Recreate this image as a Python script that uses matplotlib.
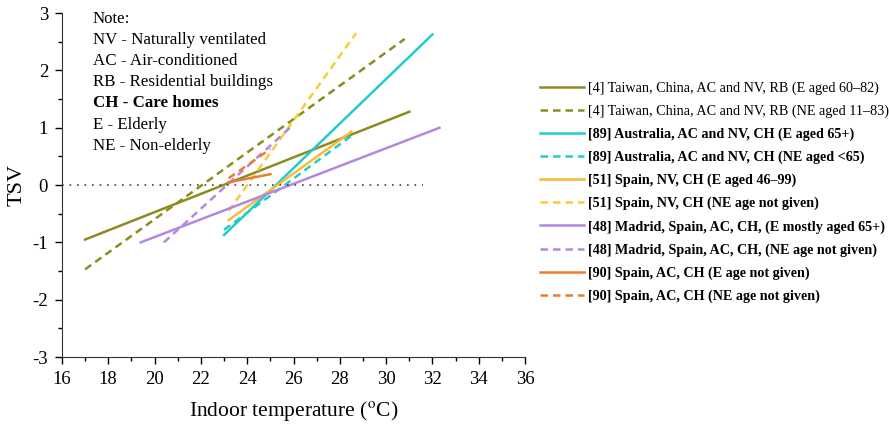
import numpy as np
import matplotlib.pyplot as plt

plt.rcParams['font.family'] = ['Liberation Serif', 'DejaVu Serif']
plt.rcParams['mathtext.fontset'] = 'stix'
plt.rcParams['axes.unicode_minus'] = False

# line endpoints: (x0, x1), (y0, y1)
labels = [
    "[4] Taiwan, China, AC and NV, RB (E aged 60\u201382)",
    "[4] Taiwan, China, AC and NV, RB (NE aged 11\u201383)",
    "[89] Australia, AC and NV, CH (E aged 65+)",
    "[89] Australia, AC and NV, CH (NE aged <65)",
    "[51] Spain, NV, CH (E aged 46\u201399)",
    "[51] Spain, NV, CH (NE age not given)",
    "[48] Madrid, Spain, AC, CH, (E mostly aged 65+)",
    "[48] Madrid, Spain, AC, CH, (NE age not given)",
    "[90] Spain, AC, CH (E age not given)",
    "[90] Spain, AC, CH (NE age not given)",
]
x_start = [17.0, 17.0, 23.0, 23.0, 23.2, 23.2, 19.4, 20.4, 23.2, 23.2]
x_end = [31.0, 30.8, 32.0, 28.6, 28.5, 28.7, 32.3, 25.9, 25.0, 25.0]
y_start = [-0.95, -1.47, -0.87, -0.78, -0.61, -0.45, -1.0, -1.0, 0.05, 0.12]
y_end = [1.28, 2.55, 2.63, 0.89, 0.93, 2.65, 1.0, 1.02, 0.19, 0.63]

colors = ['#8c8c1e', '#8c8c1e', '#22cccc', '#22cccc', '#f7bb35', '#f5cc3a',
          '#b488e0', '#b488e0', '#f07a30', '#f07a30']
bold = [False, False, True, True, True, True, True, True, True, True]

note_lines = ["Note:", "NV - Naturally ventilated", "AC - Air-conditioned",
              "RB - Residential buildings", "CH - Care homes", "E - Elderly",
              "NE - Non-elderly"]
note_y = [2.90, 2.53, 2.16, 1.80, 1.43, 1.05, 0.68]

fig = plt.figure(figsize=(8.89, 4.25), dpi=100)
ax = fig.add_axes([0.0697, 0.16, 0.521, 0.809])

for i in range(len(labels)):
    ls = '-' if i % 2 == 0 else (0, (3, 2))
    ax.plot([x_start[i], x_end[i]], [y_start[i], y_end[i]], color=colors[i],
            linestyle=ls, linewidth=1.8, label=labels[i])

ax.plot([16, 31.6], [0, 0], color='#444444', linestyle=(0, (1, 3.5)), linewidth=1.2)

for t, yy in zip(note_lines, note_y):
    ax.text(17.34, yy, t, fontsize=12.2, va='center', ha='left',
            fontweight='bold' if t.startswith("CH") else 'normal')

ax.set_xlim(16, 36)
ax.set_ylim(-3, 3)
ax.set_xticks(np.arange(16, 37, 2))
ax.set_yticks(np.arange(-3, 4, 1))
ax.set_xticks(np.arange(17, 36, 2), minor=True)
ax.set_yticks(np.arange(-2.5, 3, 1), minor=True)
ax.tick_params(which='major', direction='out', length=5, width=1, labelsize=13.5, pad=5)
ax.tick_params(which='minor', direction='out', length=3, width=1)
ax.spines['top'].set_visible(False)
ax.spines['right'].set_visible(False)
ax.spines['left'].set_color('#333333')
ax.spines['bottom'].set_color('#333333')
ax.set_xlabel("Indoor temperature ($^{\\mathrm{o}}$C)", fontsize=15.5, labelpad=8)
ax.set_ylabel("TSV", fontsize=16, labelpad=4)

leg = ax.legend(loc='center left', bbox_to_anchor=(0.607, 0.548),
                bbox_transform=fig.transFigure, frameon=False, fontsize=10.2,
                handlelength=3.15, handletextpad=0.25, labelspacing=0.68,
                borderpad=0, borderaxespad=0)
for txt, b in zip(leg.get_texts(), bold):
    if b:
        txt.set_fontweight('bold')

fig.savefig("out.png", dpi=100)
